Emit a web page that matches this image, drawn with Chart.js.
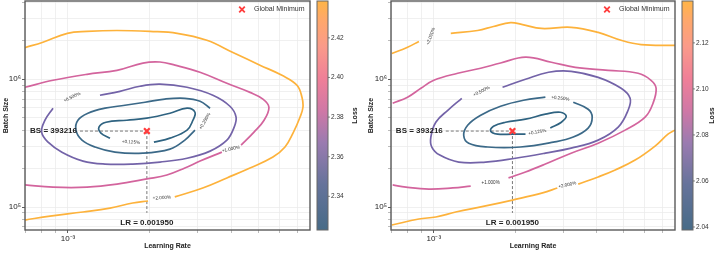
<!DOCTYPE html>
<html>
<head>
<meta charset="utf-8">
<script src="https://cdn.jsdelivr.net/npm/chart.js@4.4.1/dist/chart.umd.min.js"></script>
<style>
  html, body { margin: 0; padding: 0; background: #fff; }
  #wrap { position: relative; width: 718px; height: 253px; }
  canvas { position: absolute; top: 0; }
</style>
</head>
<body>
<div id="wrap">
  <canvas id="left" width="360" height="253" style="left:0"></canvas>
  <canvas id="right" width="353" height="253" style="left:365px"></canvas>
</div>
<script>
// axis ranges and ticks (both panels share them)
var lrRange = [6.95e-4, 7.76e-3];
var bsRange = [6.61e4, 4.1e6];
var lrTicks = [7e-4, 8e-4, 9e-4, 1e-3, 2e-3, 3e-3, 4e-3, 5e-3, 6e-3, 7e-3];
var bsTicks = [7e4, 8e4, 9e4, 1e5, 2e5, 3e5, 4e5, 5e5, 6e5, 7e5, 8e5, 9e5, 1e6, 2e6, 3e6, 4e6];

// global minimum
var minLR = 0.001950;
var minBS = 393216;
var bsLineStartLR = 1.107e-3;  // where the horizontal dashed guide starts
var lrLineEndBS = 9.0e4;       // where the vertical dashed guide stops
var lrTextBS = 7.5e4;

// colorbars
var leftCbRange = [2.323, 2.4386];
var leftCbTicks = [2.34, 2.36, 2.38, 2.40, 2.42];
var rightCbRange = [2.0387, 2.1382];
var rightCbTicks = [2.04, 2.06, 2.08, 2.10, 2.12];

// contour levels (percent above minimum)
var levelNames = ['+0.125%', '+0.250%', '+0.500%', '+1.000%', '+2.000%'];
var levelColors = ['#2f6381', '#3b6988', '#7363a8', '#d3649d', '#fdb23b'];

// left panel contours: [learning rate, batch size], null = gap
var leftC0125 = [[1.427e-3,3.46e5],[1.322e-3,3.79e5],[1.30e-3,4.22e5],[1.38e-3,4.61e5],[1.647e-3,4.78e5],[1.95e-3,4.96e5],[2.371e-3,5.42e5],[2.74e-3,5.94e5],[2.93e-3,5.52e5],[2.88e-3,4.78e5],[2.74e-3,4.0e5],[2.371e-3,3.46e5],[2.07e-3,3.22e5]];
var leftC025 = [[3.33e-3,5.94e5],[3.06e-3,6.73e5],[2.69e-3,7.1e5],[2.27e-3,7.0e5],[1.92e-3,6.61e5],[1.62e-3,6.26e5],[1.368e-3,5.94e5],[1.184e-3,5.42e5],[1.088e-3,4.78e5],[1.07e-3,4.0e5],[1.126e-3,3.34e5],[1.257e-3,2.95e5],[1.489e-3,2.69e5],[1.886e-3,2.64e5],[2.371e-3,2.84e5],[2.69e-3,3.34e5],[2.93e-3,4.0e5]];
var leftC05 = [[1.311e-3,7.5e5],[1.553e-3,8.05e5],[1.839e-3,8.82e5],[2.179e-3,9.15e5],[2.74e-3,8.66e5],[3.41e-3,7.5e5],[3.94e-3,6.15e5],[4.15e-3,5.05e5],[4.07e-3,4.15e5],[3.84e-3,3.34e5],[3.33e-3,2.74e5],[2.74e-3,2.41e5],[2.179e-3,2.25e5],[1.73e-3,2.17e5],[1.368e-3,2.17e5],[1.136e-3,2.29e5],[0.95e-3,2.69e5],[0.845e-3,3.22e5],[0.80e-3,3.86e5],[0.823e-3,4.78e5],[0.881e-3,5.94e5]];
var leftC1 = [[0.695e-3,8.66e5],[0.881e-3,9.82e5],[1.175e-3,1.094e6],[1.514e-3,1.175e6],[1.886e-3,1.34e6],[2.179e-3,1.365e6],[2.474e-3,1.29e6],[3.057e-3,1.135e6],[3.84e-3,9.3e5],[4.67e-3,7.9e5],[5.21e-3,7.0e5],[5.48e-3,6.04e5],[5.26e-3,4.78e5],[4.83e-3,3.86e5],[4.33e-3,3.05e5],null,[3.68e-3,2.69e5],[3.06e-3,2.29e5],[2.69e-3,2.02e5],[2.31e-3,1.78e5],[1.95e-3,1.66e5],[1.514e-3,1.51e5],[1.175e-3,1.43e5],[0.881e-3,1.43e5],[0.695e-3,1.49e5]];
var leftC2 = [[0.695e-3,1.77e6],[0.809e-3,1.95e6],[0.995e-3,2.29e6],[1.175e-3,2.37e6],[1.514e-3,2.41e6],[2.00e-3,2.37e6],[2.52e-3,2.29e6],[3.24e-3,2.02e6],[4.04e-3,1.62e6],[5.08e-3,1.29e6],[6.12e-3,1.074e6],[6.95e-3,8.98e5],[7.25e-3,7.24e5],[7.31e-3,6.04e5],[7.13e-3,5.05e5],[6.72e-3,3.79e5],[6.28e-3,2.95e5],[5.67e-3,2.46e5],[4.67e-3,2.02e5],[3.84e-3,1.69e5],[3.13e-3,1.41e5],[2.47e-3,1.20e5],null,[1.97e-3,1.115e5],[1.73e-3,1.075e5],[1.427e-3,0.98e5],[1.136e-3,0.914e5],[0.859e-3,0.85e5],[0.695e-3,0.791e5]];

// right panel contours
var rightC0125 = [[2.179e-3,3.72e5],[1.95e-3,3.72e5],[1.72e-3,3.72e5],[1.62e-3,3.93e5],[1.66e-3,4.29e5],[1.839e-3,4.61e5],[2.179e-3,4.87e5],[2.58e-3,5.33e5],[2.93e-3,5.52e5],[3.08e-3,5.14e5],[2.955e-3,4.61e5],[2.69e-3,4.15e5]];
var rightC025 = [[2.58e-3,7.24e5],[2.142e-3,6.85e5],[1.763e-3,6.15e5],[1.489e-3,5.23e5],[1.333e-3,4.37e5],[1.289e-3,3.65e5],[1.345e-3,3.16e5],[1.58e-3,2.95e5],[2.089e-3,2.95e5],[2.76e-3,3.22e5],[3.27e-3,3.53e5],[3.71e-3,4.15e5],[3.84e-3,5.05e5],[3.71e-3,5.83e5],[3.27e-3,6.61e5]];
var rightC05 = [[1.793e-3,8.66e5],[2.179e-3,1.0e6],[2.65e-3,1.135e6],[3.21e-3,1.155e6],[4.04e-3,1.035e6],[4.91e-3,8.5e5],[5.30e-3,7.1e5],[5.21e-3,5.72e5],[4.79e-3,4.22e5],[4.04e-3,3.34e5],[3.21e-3,2.89e5],[2.58e-3,2.64e5],[2.0e-3,2.41e5],[1.553e-3,2.25e5],[1.236e-3,2.25e5],[1.052e-3,2.55e5],[0.983e-3,2.95e5],[0.975e-3,3.53e5],[1.017e-3,4.61e5],[1.126e-3,5.72e5],[1.268e-3,7.1e5]];
var rightC1 = [[0.705e-3,6.5e5],[0.80e-3,7.24e5],[0.896e-3,8.5e5],[1.0e-3,9.82e5],[1.225e-3,1.114e6],[1.489e-3,1.22e6],[1.763e-3,1.34e6],[2.179e-3,1.49e6],[2.715e-3,1.36e6],[3.327e-3,1.24e6],[4.40e-3,1.175e6],[5.67e-3,1.114e6],[6.33e-3,9.82e5],[6.61e-3,8.5e5],[6.44e-3,6.5e5],[6.02e-3,5.05e5],[5.08e-3,4.0e5],[4.04e-3,3.16e5],[3.21e-3,2.64e5],[2.58e-3,2.17e5],[2.179e-3,1.88e5],[1.886e-3,1.69e5],null,[1.368e-3,1.46e5],[1.175e-3,1.41e5],[0.959e-3,1.38e5],[0.789e-3,1.43e5],[0.705e-3,1.49e5]];
var rightC2 = [[0.70e-3,1.59e6],[0.80e-3,1.78e6],[0.881e-3,1.98e6],null,[1.155e-3,2.29e6],[1.45e-3,2.41e6],[1.66e-3,2.59e6],[1.919e-3,2.78e6],[2.125e-3,2.68e6],[2.495e-3,2.50e6],[3.21e-3,2.55e6],[4.04e-3,2.33e6],[4.91e-3,2.02e6],[5.82e-3,1.87e6],[7.76e-3,1.84e6],null,[0.70e-3,7.23e4],[0.881e-3,8.06e4],[1.017e-3,8.36e4],[1.205e-3,9.14e4],[1.553e-3,1.02e5],[1.95e-3,1.134e5],[2.52e-3,1.29e5],[2.855e-3,1.41e5],null,[3.41e-3,1.51e5],[4.04e-3,1.72e5],[4.67e-3,1.95e5],[5.53e-3,2.33e5],[6.55e-3,3.0e5],[7.31e-3,3.72e5],[7.76e-3,4.0e5]];

// inline contour labels: [text, lr, bs]
var leftLabels = [['+0.125%',1.705e-3,3.22e5],['+0.250%',3.19e-3,4.70e5],['+0.500%',1.035e-3,7.24e5],['+1.000%',3.97e-3,2.84e5],['+2.000%',2.215e-3,1.18e5]];
var leftAngles = [3, -60, -26, -12, -3];
var rightLabels = [['+0.125%',2.41e-3,3.86e5],['+0.250%',2.93e-3,7.1e5],['+0.500%',1.50e-3,8.05e5],['+1.000%',1.62e-3,1.54e5],['+2.000%',0.975e-3,2.17e6],['+2.000%',3.11e-3,1.49e5]];
var rightAngles = [-10, 7, -27, 0, -70, -12];

var FONT = '"Liberation Sans", Arial, sans-serif';
Chart.defaults.font.family = FONT;
Chart.defaults.color = '#222';

// colormap stops used for the colorbar
var cmapStops = [[0, '#476b87'], [0.2, '#66739b'], [0.38, '#9a7bb0'], [0.52, '#cf78a6'], [0.66, '#ef7f98'], [0.8, '#fa9a8a'], [0.92, '#fea86a'], [1, '#ffb547']];

function toPoints(arr) {
    return arr.map(p => p ? { x: p[0], y: p[1] } : { x: null, y: null });
}

// plugin drawing frame, colorbar, labels and annotations
function makeDecor(panel) {
    return {
        id: 'decor',
        afterDatasetsDraw(chart) {
            const { ctx, scales: { x, y } } = chart;
            const a = chart.chartArea;
            ctx.save();
            ctx.beginPath();
            ctx.rect(a.left, a.top, a.right - a.left, a.bottom - a.top);
            ctx.clip();
            // contour labels
            ctx.fillStyle = '#333';
            ctx.font = '4.6px ' + FONT;
            ctx.textAlign = 'center';
            ctx.textBaseline = 'middle';
            panel.labels.forEach((l, i) => {
                ctx.save();
                ctx.translate(x.getPixelForValue(l[1]), y.getPixelForValue(l[2]));
                ctx.rotate(panel.angles[i] * Math.PI / 180);
                ctx.fillText(l[0], 0, 0);
                ctx.restore();
            });
            // BS / LR annotations
            ctx.font = 'bold 8px ' + FONT;
            ctx.fillStyle = '#222';
            ctx.textAlign = 'right';
            ctx.fillText('BS = ' + minBS, x.getPixelForValue(bsLineStartLR) - 3, y.getPixelForValue(minBS));
            ctx.textAlign = 'center';
            ctx.fillText('LR = ' + minLR.toFixed(6), x.getPixelForValue(minLR), y.getPixelForValue(lrTextBS));
            // legend
            const lx = a.right - 68, ly = a.top + 8.5;
            ctx.strokeStyle = '#ff3c3c';
            ctx.lineWidth = 1.8;
            ctx.beginPath();
            ctx.moveTo(lx - 2.8, ly - 2.8); ctx.lineTo(lx + 2.8, ly + 2.8);
            ctx.moveTo(lx - 2.8, ly + 2.8); ctx.lineTo(lx + 2.8, ly - 2.8);
            ctx.stroke();
            ctx.font = '7px ' + FONT;
            ctx.fillStyle = '#333';
            ctx.textAlign = 'left';
            ctx.fillText('Global Minimum', lx + 12, ly);
            ctx.restore();
        },
        afterDraw(chart) {
            const { ctx, scales: { cb } } = chart;
            const a = chart.chartArea;
            ctx.save();
            // frame
            ctx.strokeStyle = '#5a5a5a';
            ctx.lineWidth = 1.4;
            ctx.strokeRect(a.left, a.top, a.right - a.left, a.bottom - a.top);
            // colorbar
            const x0 = a.right + 7, w = 11;
            const top = cb.getPixelForValue(cb.max), bot = cb.getPixelForValue(cb.min);
            const grad = ctx.createLinearGradient(0, bot, 0, top);
            cmapStops.forEach(s => grad.addColorStop(s[0], s[1]));
            ctx.fillStyle = grad;
            ctx.fillRect(x0, top, w, bot - top);
            ctx.strokeStyle = '#666';
            ctx.lineWidth = 1;
            ctx.strokeRect(x0, top, w, bot - top);
            ctx.strokeStyle = '#555';
            ctx.lineWidth = 0.7;
            panel.cbTicks.forEach(v => {
                const yy = cb.getPixelForValue(v);
                ctx.beginPath();
                ctx.moveTo(x0 + w, yy); ctx.lineTo(x0 + w + 2, yy);
                ctx.stroke();
            });
            // colorbar title
            ctx.translate(a.right + panel.lossGap, (a.top + a.bottom) / 2);
            ctx.rotate(-Math.PI / 2);
            ctx.font = 'bold 7px ' + FONT;
            ctx.fillStyle = '#222';
            ctx.textAlign = 'center';
            ctx.textBaseline = 'middle';
            ctx.fillText('Loss', 0, 0);
            ctx.restore();
        }
    };
}

// keep vertical axes from reserving extra space above/below the plot
function noPad(s) {
    s.paddingTop = 0;
    s.paddingBottom = 0;
}

function buildChart(panel) {
    const datasets = [];
    // marker first so it is drawn on top
    datasets.push({
        label: 'Global Minimum',
        data: [{ x: minLR, y: minBS }],
        showLine: false,
        pointStyle: 'crossRot',
        pointRadius: 4,
        pointBorderWidth: 2.2,
        pointBorderColor: '#ff3c3c',
        pointBackgroundColor: '#ff3c3c'
    });
    panel.contours.forEach((c, i) => {
        datasets.push({
            label: levelNames[i],
            data: toPoints(c),
            showLine: true,
            borderColor: levelColors[i],
            borderWidth: 1.7,
            pointRadius: 0,
            tension: 0.4,
            spanGaps: false,
            fill: false
        });
    });
    // dashed guides
    datasets.push({
        label: 'bs guide',
        data: toPoints([[bsLineStartLR, minBS], [minLR, minBS]]),
        showLine: true, borderColor: '#555', borderWidth: 0.8, borderDash: [3, 2], pointRadius: 0
    });
    datasets.push({
        label: 'lr guide',
        data: toPoints([[minLR, minBS], [minLR, lrLineEndBS]]),
        showLine: true, borderColor: '#555', borderWidth: 0.8, borderDash: [3, 2], pointRadius: 0
    });

    const gridColor = '#ececec';
    new Chart(document.getElementById(panel.id), {
        type: 'scatter',
        data: { datasets: datasets },
        plugins: [makeDecor(panel)],
        options: {
            responsive: false,
            animation: false,
            layout: { autoPadding: false, padding: { top: 1, left: 0, right: 0, bottom: 0 } },
            plugins: { legend: { display: false }, tooltip: { enabled: false } },
            scales: {
                x: {
                    type: 'logarithmic',
                    min: lrRange[0], max: lrRange[1],
                    afterBuildTicks: s => { s.ticks = lrTicks.map(v => ({ value: v })); },
                    afterFit: s => { s.height = 23; s.paddingLeft = 0; s.paddingRight = 0; },
                    border: { display: false },
                    grid: {
                        color: gridColor, lineWidth: 0.8, tickLength: 3,
                        tickColor: c => (c.tick && c.tick.value === 1e-3) ? '#333' : '#aaa'
                    },
                    ticks: {
                        autoSkip: false, maxRotation: 0, padding: 1,
                        font: { size: 8 }, color: '#222',
                        callback: v => v === 1e-3 ? '10⁻³' : ''
                    },
                    title: { display: true, text: 'Learning Rate', font: { size: 7, weight: 'bold' }, padding: { top: 0, bottom: 3 } }
                },
                y: {
                    type: 'logarithmic',
                    min: bsRange[0], max: bsRange[1],
                    afterBuildTicks: s => { s.ticks = bsTicks.map(v => ({ value: v })); },
                    afterFit: s => { s.width = panel.yAxisW; noPad(s); },
                    border: { display: false },
                    grid: {
                        color: gridColor, lineWidth: 0.8, tickLength: 3,
                        tickColor: c => (c.tick && (c.tick.value === 1e5 || c.tick.value === 1e6)) ? '#333' : '#aaa'
                    },
                    ticks: {
                        autoSkip: false, padding: 1,
                        font: { size: 8 }, color: '#222',
                        callback: v => v === 1e5 ? '10⁵' : (v === 1e6 ? '10⁶' : '')
                    },
                    title: { display: true, text: 'Batch Size', font: { size: 7, weight: 'bold' }, padding: { top: 2, bottom: 0 } }
                },
                cb: {
                    type: 'linear',
                    position: 'right',
                    min: panel.cbRange[0], max: panel.cbRange[1],
                    afterBuildTicks: s => { s.ticks = panel.cbTicks.map(v => ({ value: v })); },
                    afterFit: s => { s.width = panel.width - 310; noPad(s); },
                    border: { display: false },
                    grid: { display: false, drawTicks: false },
                    ticks: { padding: 21, font: { size: 6.5 }, color: '#333', callback: v => v.toFixed(2) }
                }
            }
        }
    });
}

buildChart({
    id: 'left', width: 360, yAxisW: 25, lossGap: 45,
    contours: [leftC0125, leftC025, leftC05, leftC1, leftC2],
    labels: leftLabels, angles: leftAngles,
    cbRange: leftCbRange, cbTicks: leftCbTicks
});
buildChart({
    id: 'right', width: 353, yAxisW: 26, lossGap: 37,
    contours: [rightC0125, rightC025, rightC05, rightC1, rightC2],
    labels: rightLabels, angles: rightAngles,
    cbRange: rightCbRange, cbTicks: rightCbTicks
});
</script>
</body>
</html>
